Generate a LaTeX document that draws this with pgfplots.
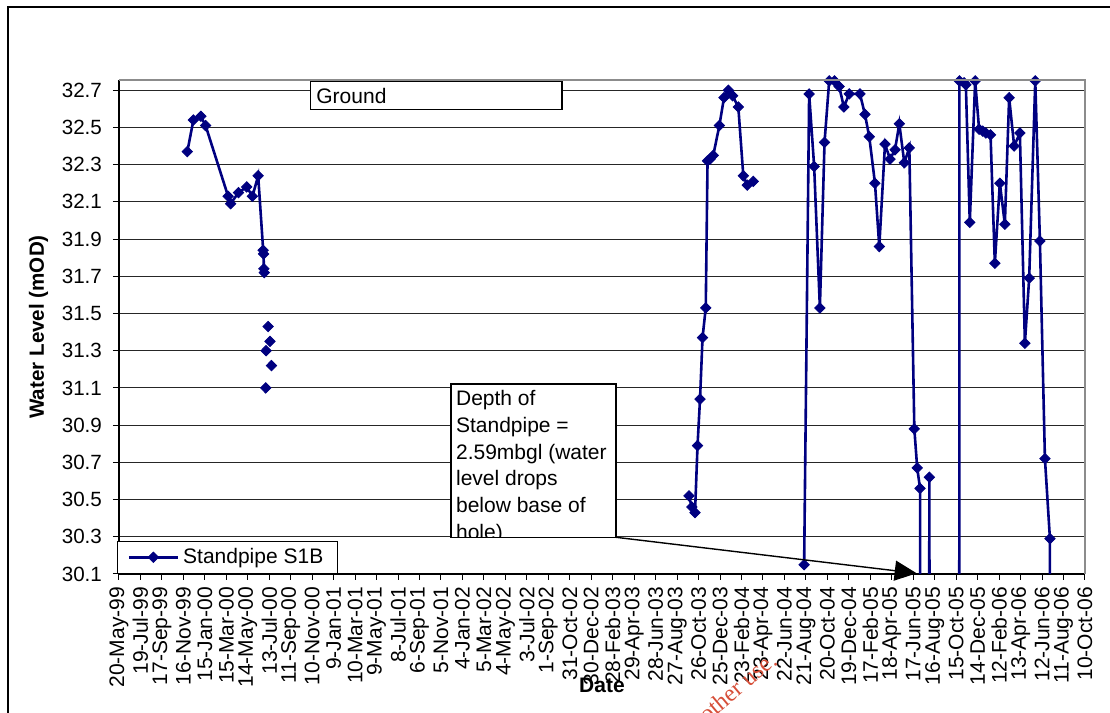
\documentclass[border=0pt]{standalone}
\usepackage{fontspec}
\setmainfont{Liberation Sans}
\newfontfamily\wmfont{Liberation Serif}
\usepackage{pgfplots}
\pgfplotsset{compat=1.18}
\usepackage{pgfplotstable}
\usetikzlibrary{arrows.meta}

\definecolor{navyline}{RGB}{0,0,128}
\definecolor{wmred}{RGB}{214,78,56}

% day = days since 20-May-99, lvl = water level (mOD); nan breaks the line
\pgfplotstableread{
day lvl
191 32.37
208 32.54
229 32.56
242 32.51
305 32.13
312 32.09
334 32.15
357 32.18
373 32.13
389 32.24
403 31.84
404 31.82
405 31.74
406 31.72
407 nan
410 31.10
410.5 nan
411 31.30
412 nan
417 31.43
418 nan
422 31.35
423 nan
426 31.22
427 nan
1593 30.52
1601 30.46
1610 30.43
1617 30.79
1624 31.04
1631 31.37
1640 31.53
1645 32.32
1652 32.33
1661 32.35
1678 32.51
1691 32.66
1703 32.70
1715 32.67
1731 32.61
1745 32.24
1756 32.19
1773 32.21
1774 nan
1915 30.15
1929 32.68
1943 32.29
1959 31.53
1972 32.42
1985 32.75
2000 32.75
2013 32.72
2026 32.61
2041 32.68
2071 32.68
2085 32.57
2097 32.45
2113 32.20
2125 31.86
2141 32.41
2155 32.33
2169 32.38
2181 32.52
2195 32.31
2209 32.39
2223 30.88
2231 30.67
2239 30.56
2240 25
2262 25
2265 30.62
2268 25
2348 25
2349 32.75
2362 32.74
2367 32.73
2378 31.99
2393 32.75
2404 32.49
2414 32.48
2423 32.47
2436 32.46
2448 31.77
2462 32.20
2476 31.98
2488 32.66
2502 32.40
2518 32.47
2532 31.34
2544 31.69
2561 32.75
2574 31.89
2588 30.72
2602 30.29
2603 25
}\sOneB

\begin{document}
\begin{tikzpicture}
\begin{axis}[
    scale only axis,
    width=483pt, height=247pt,
    xmin=0, xmax=2700, ymin=30.1, ymax=32.755,
    axis x line*=bottom, axis y line*=left,
    axis line style={-, black, line width=0.6pt},
    tick align=outside, major tick length=3pt,
    tick style={black, line width=0.5pt},
    xtick={0,60,...,2700},
    xticklabels={20-May-99,19-Jul-99,17-Sep-99,16-Nov-99,15-Jan-00,15-Mar-00,14-May-00,13-Jul-00,11-Sep-00,10-Nov-00,9-Jan-01,10-Mar-01,9-May-01,8-Jul-01,6-Sep-01,5-Nov-01,4-Jan-02,5-Mar-02,4-May-02,3-Jul-02,1-Sep-02,31-Oct-02,30-Dec-02,28-Feb-03,29-Apr-03,28-Jun-03,27-Aug-03,26-Oct-03,25-Dec-03,23-Feb-04,23-Apr-04,22-Jun-04,21-Aug-04,20-Oct-04,19-Dec-04,17-Feb-05,18-Apr-05,17-Jun-05,16-Aug-05,15-Oct-05,14-Dec-05,12-Feb-06,13-Apr-06,12-Jun-06,11-Aug-06,10-Oct-06},
    xticklabel style={rotate=90, anchor=east, font=\fontsize{10.5}{12}\selectfont},
    ytick={30.1,30.3,30.5,30.7,30.9,31.1,31.3,31.5,31.7,31.9,32.1,32.3,32.5,32.7},
    yticklabels={30.1,30.3,30.5,30.7,30.9,31.1,31.3,31.5,31.7,31.9,32.1,32.3,32.5,32.7},
    yticklabel style={font=\fontsize{10.3}{12}\selectfont, xshift=-2pt},
    ymajorgrids,
    grid style={black!85, line width=0.5pt},
    xlabel={Date}, ylabel={Water Level (mOD)},
    xlabel style={at={(axis description cs:0.5,-0.2247)}, anchor=center, font=\bfseries\fontsize{10.5}{12}\selectfont},
    ylabel style={at={(axis description cs:-0.0834,0.5)}, anchor=center, font=\bfseries\fontsize{10.3}{12}\selectfont},
    unbounded coords=jump,
    legend style={at={(axis description cs:0,0)}, anchor=south west, xshift=-1pt,
        draw=black, line width=0.6pt, fill=white, inner xsep=5pt, inner ysep=1.5pt,
        font=\fontsize{10.5}{12}\selectfont},
    legend cell align=left,
    legend image code/.code={\draw[mark repeat=2, mark phase=2, #1] plot coordinates {(0pt,0pt) (12.25pt,0pt) (24.5pt,0pt)};},
]
\addplot[navyline, line width=1.3pt, mark=diamond*, mark size=2.6pt,
    mark options={line width=0.4pt, xscale=1.33}]
    table[x=day, y=lvl] {\sOneB};
\addlegendentry{Standpipe S1B}
\end{axis}

% plot-area border (top and right)
\draw[black!45, line width=1pt] (0pt,247pt) -- (483pt,247pt) -- (483pt,0pt);
% chart frame
\draw[line width=1.3pt] (-55.5pt,-80pt) -- (-55.5pt,283.5pt) -- (520pt,283.5pt);

% text boxes
\draw[fill=white, line width=0.6pt] (95.85pt,232.35pt) rectangle (221.5pt,246.15pt);
\node[anchor=west, inner sep=0pt, font=\fontsize{10.5}{12}\selectfont] at (98.5pt,239.25pt) {Ground};

\draw[fill=white, line width=0.6pt] (166pt,18.15pt) rectangle (248.5pt,95pt);
\begin{scope}
  \clip (166pt,18.15pt) rectangle (248.5pt,95pt);
  \foreach \t [count=\i from 0] in {{Depth of},{Standpipe =},{2.59mbgl (water},{level drops},{below base of},{hole)}}
    \node[anchor=base west, inner sep=0pt, font=\fontsize{10.5}{12}\selectfont] at (168.35pt,{84.15pt-\i*13.35pt}) {\t};
\end{scope}
\draw[line width=0.7pt, -{Triangle[length=11pt,width=10pt]}] (248.5pt,18.35pt) -- (398.85pt,0.35pt);

% watermark
\node[rotate=40, anchor=base east, text=wmred, inner sep=0pt, font=\wmfont\fontsize{12}{14}\selectfont] at (330pt,-44.5pt) {Consent of copyright owner required for any other use.};

\pgfresetboundingbox
\useasboundingbox (-59.5pt,-69.5pt) rectangle (495.5pt,287pt);
\end{tikzpicture}
\end{document}
